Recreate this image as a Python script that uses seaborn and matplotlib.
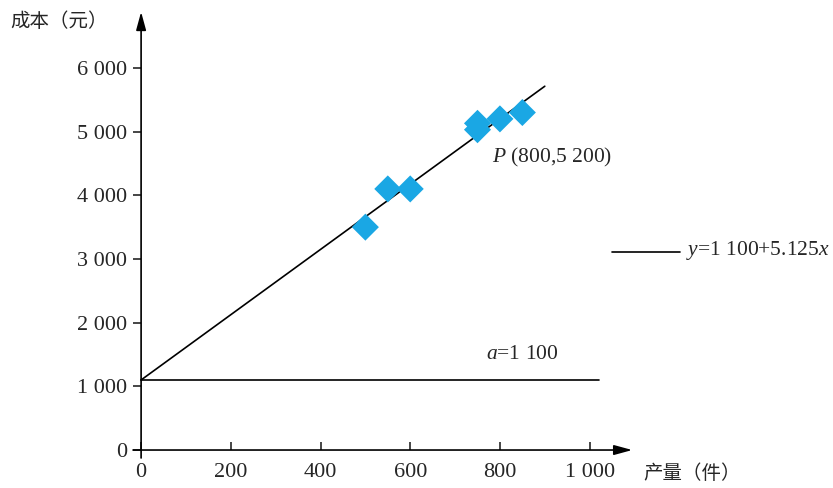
import matplotlib
matplotlib.use("Agg")
import matplotlib.pyplot as plt
import numpy as np
import pandas as pd
import seaborn as sns

# Data
output = [500, 550, 600, 750, 750, 800, 850]
cost = [3500, 4100, 4100, 5130, 5030, 5200, 5300]
intercept = 1100
slope = 5.125
fit_range = [0, 900]
fixed_range = [0, 1020]
xticks = [0, 200, 400, 600, 800, 1000]
yticks = [0, 1000, 2000, 3000, 4000, 5000, 6000]


def fmt(v):
    return "{:,}".format(v).replace(",", " ")


sns.set_style("white")
plt.rcParams["font.family"] = ["Liberation Serif", "Noto Sans CJK SC"]
plt.rcParams["mathtext.fontset"] = "custom"
plt.rcParams["mathtext.rm"] = "Liberation Serif"
plt.rcParams["mathtext.it"] = "Liberation Serif:italic"

fig = plt.figure(figsize=(8.33, 4.88), dpi=100)
ax = fig.add_axes([0.1597, 0.0615, 0.5966, 0.9037])

pts = pd.DataFrame({"output": output, "cost": cost})
fit = pd.DataFrame({"x": fit_range, "y": [intercept + slope * v for v in fit_range]})
fixed = pd.DataFrame({"x": fixed_range, "y": [intercept] * len(fixed_range)})

sns.lineplot(data=fit, x="x", y="y", color="black", lw=1.2, ax=ax)
sns.lineplot(data=fixed, x="x", y="y", color="black", lw=1.2, ax=ax)
sns.scatterplot(data=pts, x="output", y="cost", marker="D", s=190,
                color="#1AA7E4", edgecolor="none", zorder=3, ax=ax)

ax.set_xlim(-18, 1090)
ax.set_ylim(-125, 6800)
ax.spines["top"].set_visible(False)
ax.spines["right"].set_visible(False)
ax.spines["left"].set_visible(False)
ax.spines["bottom"].set_visible(False)

# axes drawn as arrows through the origin
arrow = dict(arrowstyle="-|>,head_length=1.1,head_width=0.3", color="black",
             lw=1.2, shrinkA=0, shrinkB=0)
ax.annotate("", xy=(1095, 0), xytext=(-18, 0), arrowprops=arrow, annotation_clip=False)
ax.annotate("", xy=(0, 6880), xytext=(0, -125), arrowprops=arrow, annotation_clip=False)
ax.spines["left"].set_position(("data", 0))
ax.spines["bottom"].set_position(("data", 0))

ax.set_xticks(xticks)
ax.set_xticklabels([fmt(v) for v in xticks])
ax.set_yticks(yticks)
ax.set_yticklabels([fmt(v) for v in yticks])
ax.tick_params(axis="x", direction="in", length=6, width=1.2, labelsize=16, pad=9,
               bottom=True)
ax.tick_params(axis="y", direction="out", length=6, width=1.2, labelsize=16, pad=4,
               left=True)
ax.set_xlabel("")
ax.set_ylabel("")

ax.text(782, 4590, "$P$ (800,5 200)", fontsize=15.5, va="center", ha="left")
ax.text(770, 1500, "$a$=1 100", fontsize=15.5, va="center", ha="left")

fig.text(10 / 833, 1 - 22 / 488, "成本（元）", fontsize=14, va="center", ha="left")
fig.text(643 / 833, 1 - 474 / 488, "产量（件）", fontsize=14, va="center", ha="left")

fig.add_artist(plt.Line2D([612 / 833, 680 / 833], [1 - 252 / 488] * 2,
                          color="black", lw=1.2))
fig.text(686 / 833, 1 - 250 / 488, "$y$=1 100+5.125$x$", fontsize=15.5,
         va="center", ha="left")

fig.savefig("out.png", dpi=100)
